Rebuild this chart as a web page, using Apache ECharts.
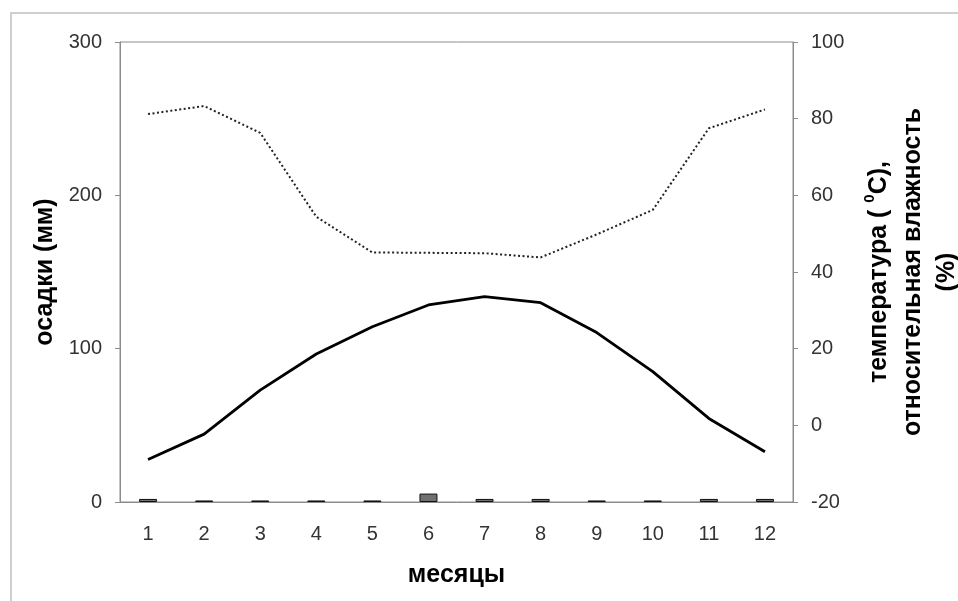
<!DOCTYPE html>
<html lang="ru">
<head>
    <meta charset="UTF-8">
    <title>Климатограмма</title>
    <script src="https://cdn.jsdelivr.net/npm/echarts@6/dist/echarts.min.js"></script>
    <style>
        html, body { margin: 0; padding: 0; background: #fff; }
        #frame { position: absolute; left: 10px; top: 12px; width: 1000px; height: 700px;
                 border-left: 2px solid #cfcfcf; border-top: 2px solid #cfcfcf; }
    </style>
</head>
<body>
<div id="frame"></div>
<div id="main" style="position:absolute;left:0;top:0;width:958px;height:601px;"></div>
<script type="text/javascript">
    // месяцы
    var months = ['1', '2', '3', '4', '5', '6', '7', '8', '9', '10', '11', '12'];
    // осадки, мм
    var precipitation = [2, 1, 1, 1, 1, 5.5, 2, 2, 1, 1, 2, 2];
    // температура, °C
    var temperature = [-8.9, -2.3, 9.2, 18.6, 25.7, 31.4, 33.6, 32, 24.2, 14, 1.8, -6.9];
    // относительная влажность, %
    var humidity = [81.2, 83.3, 76.3, 54.4, 45.1, 45, 44.9, 43.8, 49.8, 56.2, 77.5, 82.4];

    var font = 'Liberation Sans, Arial, sans-serif';
    var axisGray = '#8c8c8c';

    var myChart = echarts.init(document.getElementById('main'));

    var option = {
        animation: false,
        textStyle: { fontFamily: font },
        grid: {
            left: 120, right: 165, top: 42, bottom: 99,
            outerBoundsMode: 'none',
            containLabel: false,
            show: true, borderColor: axisGray, borderWidth: 1
        },
        xAxis: {
            type: 'category',
            data: months,
            name: 'месяцы',
            nameLocation: 'middle',
            nameGap: 61,
            nameTextStyle: { fontSize: 25, fontWeight: 'bold', color: '#000' },
            axisLine: { lineStyle: { color: axisGray } },
            axisTick: { length: 5, lineStyle: { color: axisGray } },
            axisLabel: { fontSize: 20, color: '#333', margin: 22 }
        },
        yAxis: [{
            type: 'value',
            min: 0, max: 300, interval: 100,
            name: 'осадки (мм)',
            nameLocation: 'middle',
            nameRotate: 90,
            nameGap: 61,
            nameTextStyle: { fontSize: 25, fontWeight: 'bold', color: '#000' },
            axisLine: { show: true, lineStyle: { color: axisGray } },
            axisTick: { show: true, length: 5, lineStyle: { color: axisGray } },
            axisLabel: { fontSize: 20, color: '#333', margin: 18 },
            splitLine: { show: false }
        }, {
            type: 'value',
            position: 'right',
            min: -20, max: 100, interval: 20,
            name: 'температура ( {sup|0}C),\nотносительная влажность\n(%)',
            nameLocation: 'middle',
            nameRotate: 90,
            nameGap: 69,
            nameTextStyle: {
                fontSize: 25, fontWeight: 'bold', color: '#000', lineHeight: 34,
                rich: {
                    sup: { fontSize: 15, fontWeight: 'bold', color: '#000', verticalAlign: 'top', lineHeight: 24 }
                }
            },
            axisLine: { show: true, lineStyle: { color: axisGray } },
            axisTick: { show: true, length: 5, lineStyle: { color: axisGray } },
            axisLabel: { fontSize: 20, color: '#333', margin: 18 },
            splitLine: { show: false }
        }],
        series: [{
            name: 'осадки',
            type: 'bar',
            yAxisIndex: 0,
            barWidth: 18,
            data: precipitation,
            itemStyle: { color: '#707070', borderColor: '#111', borderWidth: 1 }
        }, {
            name: 'температура',
            type: 'line',
            yAxisIndex: 1,
            data: temperature,
            symbol: 'none',
            lineStyle: { color: '#000', width: 2.8 }
        }, {
            name: 'влажность',
            type: 'line',
            yAxisIndex: 1,
            data: humidity,
            symbol: 'none',
            lineStyle: { color: '#222', width: 2, type: [2, 2.5] }
        }]
    };

    myChart.setOption(option);
</script>
</body>
</html>
